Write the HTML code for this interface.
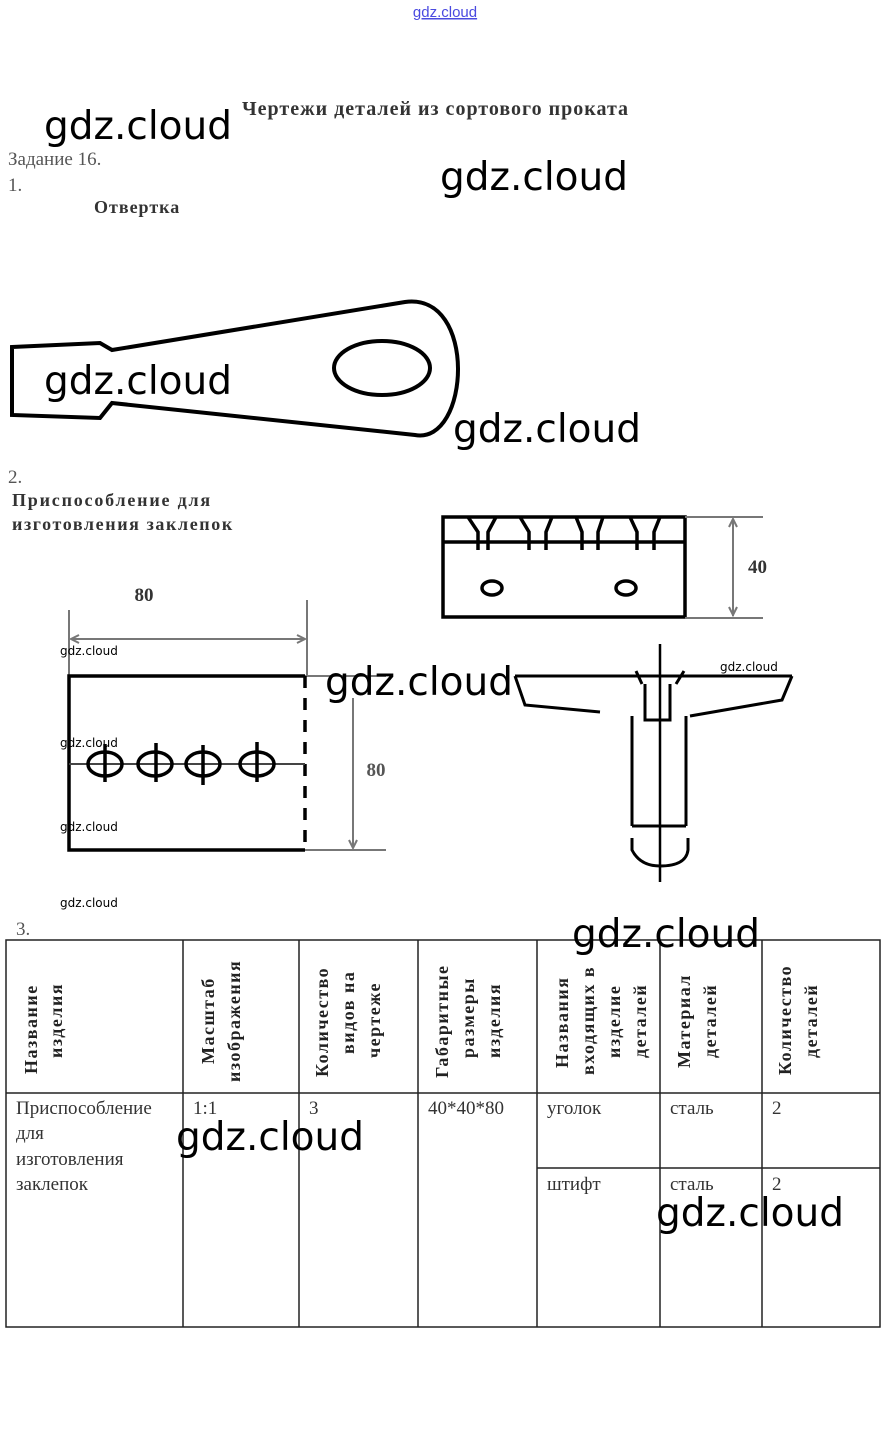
<!DOCTYPE html>
<html><head><meta charset="utf-8"><style>
html,body{margin:0;padding:0;background:#fff;}
svg{display:block;}
.s{font-family:"Liberation Serif",serif;}
.wm{font-family:"DejaVu Sans","Liberation Sans",sans-serif;font-size:39px;fill:#000;}
.ws{font-family:"DejaVu Sans","Liberation Sans",sans-serif;font-size:12px;fill:#000;}
.h{font-family:"Liberation Serif",serif;font-weight:bold;font-size:18px;letter-spacing:1.5px;fill:#222;}
.b{font-family:"Liberation Serif",serif;font-size:19px;fill:#333;}
</style></head><body>
<svg width="888" height="1436" viewBox="0 0 888 1436" xmlns="http://www.w3.org/2000/svg">
<text x="445" y="17" text-anchor="middle" font-family="Liberation Sans,sans-serif" font-size="15" fill="#4a4ae0" text-decoration="underline">gdz.cloud</text>
<text x="242" y="115" class="s" font-weight="bold" font-size="20" fill="#333" letter-spacing="1">Чертежи деталей из сортового проката</text>
<text x="8" y="165" class="s" font-size="19" fill="#555">Задание 16.</text>
<text x="8" y="191" class="s" font-size="19" fill="#555">1.</text>
<text x="94" y="213" class="s" font-weight="bold" font-size="18" fill="#333" letter-spacing="1">Отвертка</text>

<path d="M12,347 L100,343 L112,350 L405,302 C478,292 470,445 415,435 L112,403 L100,418 L12,415 Z" fill="none" stroke="#000" stroke-width="4"/>
<ellipse cx="382" cy="368" rx="48" ry="27" fill="none" stroke="#000" stroke-width="4"/>

<text x="8" y="483" class="s" font-size="19" fill="#555">2.</text>
<text x="12" y="506" class="s" font-weight="bold" font-size="18" fill="#333" letter-spacing="1.8">Приспособление для</text>
<text x="12" y="530" class="s" font-weight="bold" font-size="18" fill="#333" letter-spacing="1.6">изготовления заклепок</text>

<g stroke="#000" stroke-width="3.5" fill="none">
<rect x="443" y="517" width="242" height="100"/>
<line x1="443" y1="542" x2="685" y2="542"/>
<ellipse cx="492" cy="588" rx="10" ry="7"/>
<ellipse cx="626" cy="588" rx="10" ry="7"/>
<path d="M468,517 L478,532 L478,550 M496,517 L488,532 L488,550"/>
<path d="M520,517 L529,532 L529,550 M552,517 L546,532 L546,550"/>
<path d="M576,517 L582,532 L582,550 M603,517 L598,532 L598,550"/>
<path d="M630,517 L637,532 L637,550 M660,517 L654,532 L654,550"/>
</g>
<g stroke="#777" stroke-width="2" fill="none">
<line x1="685" y1="517" x2="763" y2="517"/>
<line x1="685" y1="618" x2="763" y2="618"/>
<line x1="733" y1="519" x2="733" y2="616"/>
<path d="M729,527 L733,519 L737,527 M729,607 L733,615 L737,607"/>
</g>
<text x="748" y="573" class="s" font-weight="bold" font-size="19" fill="#333">40</text>

<g stroke="#000" stroke-width="3" fill="none">
<line x1="515" y1="676" x2="792" y2="676"/>
<path d="M515,676 L525,705 L600,712"/>
<path d="M792,676 L782,700 L690,716"/>
<line x1="632" y1="716" x2="632" y2="826"/>
<line x1="686" y1="716" x2="686" y2="826"/>
<line x1="632" y1="826" x2="686" y2="826"/>
<path d="M632,838 L632,850 Q640,866 660,866 Q686,866 688,850 L688,838"/>
<path d="M645,684 L645,720 L670,720 L670,684"/>
<path d="M636,671 L642,684 M684,671 L676,684"/>
<line x1="660" y1="644" x2="660" y2="882" stroke-width="2.5"/>
</g>

<g stroke="#777" stroke-width="2" fill="none">
<line x1="69" y1="610" x2="69" y2="676"/>
<line x1="307" y1="600" x2="307" y2="676"/>
<line x1="71" y1="639" x2="305" y2="639"/>
<path d="M79,635 L71,639 L79,643 M297,635 L305,639 L297,643"/>
<line x1="305" y1="676" x2="386" y2="676"/>
<line x1="305" y1="850" x2="386" y2="850"/>
<line x1="353" y1="698" x2="353" y2="848"/>
<path d="M349,840 L353,848 L357,840"/>
</g>
<text x="144" y="601" class="s" font-weight="bold" font-size="19" fill="#333" text-anchor="middle">80</text>
<text x="376" y="776" class="s" font-weight="bold" font-size="19" fill="#555" text-anchor="middle">80</text>
<g stroke="#000" stroke-width="3.5" fill="none">
<path d="M305,676 L69,676 L69,850 L305,850"/>
<line x1="305" y1="676" x2="305" y2="850" stroke-dasharray="12,10"/>
<line x1="69" y1="764" x2="305" y2="764" stroke-width="2" stroke="#444"/>
<ellipse cx="105" cy="764" rx="17" ry="12"/>
<ellipse cx="155" cy="764" rx="17" ry="12"/>
<ellipse cx="203" cy="764" rx="17" ry="12"/>
<ellipse cx="257" cy="764" rx="17" ry="12"/>
<line x1="105" y1="744" x2="105" y2="782"/>
<line x1="156" y1="743" x2="156" y2="782"/>
<line x1="203" y1="745" x2="203" y2="785"/>
<line x1="257" y1="742" x2="257" y2="782"/>
</g>

<text x="16" y="935" class="s" font-size="19" fill="#555">3.</text>

<g stroke="#222" stroke-width="1.5" fill="none">
<rect x="6" y="940" width="874" height="387"/>
<line x1="6" y1="1093" x2="880" y2="1093"/>
<line x1="537" y1="1168" x2="880" y2="1168"/>
<line x1="183" y1="940" x2="183" y2="1327"/>
<line x1="299" y1="940" x2="299" y2="1327"/>
<line x1="418" y1="940" x2="418" y2="1327"/>
<line x1="537" y1="940" x2="537" y2="1327"/>
<line x1="660" y1="940" x2="660" y2="1327"/>
<line x1="762" y1="940" x2="762" y2="1327"/>
</g>
<g class="h">
<text transform="translate(37,1074) rotate(-90)">Название</text>
<text transform="translate(62,1058) rotate(-90)">изделия</text>
<text transform="translate(214,1064) rotate(-90)">Масштаб</text>
<text transform="translate(240,1082) rotate(-90)">изображения</text>
<text transform="translate(328,1077) rotate(-90)">Количество</text>
<text transform="translate(354,1054) rotate(-90)">видов на</text>
<text transform="translate(380,1058) rotate(-90)">чертеже</text>
<text transform="translate(448,1078) rotate(-90)">Габаритные</text>
<text transform="translate(474,1058) rotate(-90)">размеры</text>
<text transform="translate(500,1058) rotate(-90)">изделия</text>
<text transform="translate(568,1068) rotate(-90)">Названия</text>
<text transform="translate(594,1075) rotate(-90)">входящих в</text>
<text transform="translate(620,1058) rotate(-90)">изделие</text>
<text transform="translate(646,1058) rotate(-90)">деталей</text>
<text transform="translate(690,1068) rotate(-90)">Материал</text>
<text transform="translate(716,1058) rotate(-90)">деталей</text>
<text transform="translate(791,1075) rotate(-90)">Количество</text>
<text transform="translate(817,1058) rotate(-90)">деталей</text>
</g>
<g class="b">
<text x="16" y="1114">Приспособление</text>
<text x="16" y="1139">для</text>
<text x="16" y="1165">изготовления</text>
<text x="16" y="1190">заклепок</text>
<text x="193" y="1114">1:1</text>
<text x="309" y="1114">3</text>
<text x="428" y="1114">40*40*80</text>
<text x="547" y="1114">уголок</text>
<text x="670" y="1114">сталь</text>
<text x="772" y="1114">2</text>
<text x="547" y="1190">штифт</text>
<text x="670" y="1190">сталь</text>
<text x="772" y="1190">2</text>
</g>

<g class="wm">
<text x="44" y="139">gdz.cloud</text>
<text x="440" y="190">gdz.cloud</text>
<text x="44" y="394">gdz.cloud</text>
<text x="453" y="442">gdz.cloud</text>
<text x="325" y="695">gdz.cloud</text>
<text x="572" y="947">gdz.cloud</text>
<text x="176" y="1150">gdz.cloud</text>
<text x="656" y="1226">gdz.cloud</text>
</g>
<g class="ws">
<text x="60" y="655">gdz.cloud</text>
<text x="60" y="747">gdz.cloud</text>
<text x="60" y="831">gdz.cloud</text>
<text x="60" y="907">gdz.cloud</text>
<text x="720" y="671">gdz.cloud</text>
</g>
</svg>
</body></html>
